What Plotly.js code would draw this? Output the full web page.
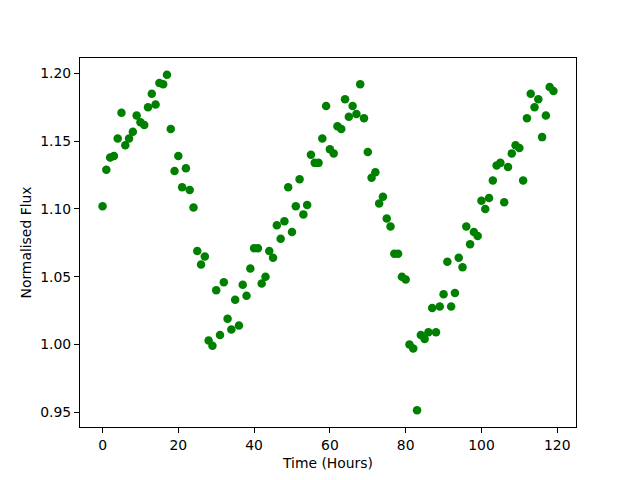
<!DOCTYPE html>
<html>
<head>
<meta charset="utf-8">
<script src="https://cdn.plot.ly/plotly-3.0.1.min.js"></script>
<style>html,body{margin:0;padding:0;background:#fff;}#chart{width:640px;height:480px;}</style>
</head>
<body>
<div id="chart"></div>
<script>
// Time in hours
const timeHours = [];
for (let i = 0; i < 120; i++) timeHours.push(i);

// Normalised flux
const flux = [
  1.102, 1.129, 1.138, 1.139, 1.152, 1.171, 1.147, 1.152, 1.157, 1.169,
  1.164, 1.162, 1.175, 1.185, 1.177, 1.193, 1.192, 1.199, 1.159, 1.128,
  1.139, 1.116, 1.130, 1.114, 1.101, 1.069, 1.059, 1.065, 1.003, 0.999,
  1.040, 1.007, 1.046, 1.019, 1.011, 1.033, 1.014, 1.044, 1.036, 1.056,
  1.071, 1.071, 1.045, 1.050, 1.069, 1.064, 1.088, 1.078, 1.091, 1.116,
  1.083, 1.102, 1.122, 1.096, 1.103, 1.140, 1.134, 1.134, 1.152, 1.176,
  1.144, 1.141, 1.161, 1.159, 1.181, 1.168, 1.176, 1.170, 1.192, 1.167,
  1.142, 1.123, 1.127, 1.104, 1.109, 1.093, 1.087, 1.067, 1.067, 1.050,
  1.048, 1.000, 0.997, 0.9515, 1.007, 1.004, 1.009, 1.027, 1.009, 1.028,
  1.037, 1.061, 1.028, 1.038, 1.064, 1.057, 1.087, 1.074, 1.083, 1.080,
  1.106, 1.100, 1.108, 1.121, 1.132, 1.134, 1.105, 1.131, 1.141, 1.147,
  1.145, 1.121, 1.167, 1.185, 1.175, 1.181, 1.153, 1.169, 1.190, 1.187
];

const xTickVals = [0, 20, 40, 60, 80, 100, 120];
const yTickVals = [0.95, 1.00, 1.05, 1.10, 1.15, 1.20];

function padRange(arr) {
  const mn = Math.min(...arr), mx = Math.max(...arr);
  const m = (mx - mn) * 0.05;
  return [mn - m, mx + m];
}

const font = {family: 'DejaVu Sans, sans-serif', size: 13.9, color: '#000'};

const trace = {
  x: timeHours,
  y: flux,
  type: 'scatter',
  mode: 'markers',
  marker: {color: '#008000', size: 8.5, line: {width: 0}},
  hoverinfo: 'x+y'
};

const axisCommon = {
  showgrid: false,
  zeroline: false,
  showline: true,
  mirror: true,
  linecolor: '#000',
  linewidth: 1,
  ticks: 'outside',
  ticklen: 5,
  tickwidth: 1,
  tickcolor: '#000',
  tickfont: font
};

const layout = {
  width: 640,
  height: 480,
  margin: {l: 80, r: 64, t: 58, b: 53},
  paper_bgcolor: '#fff',
  plot_bgcolor: '#fff',
  showlegend: false,
  font: font,
  xaxis: Object.assign({}, axisCommon, {
    range: padRange(timeHours),
    tickvals: xTickVals,
    ticktext: xTickVals.map(String),
    title: {text: 'Time (Hours)', font: font, standoff: 6}
  }),
  yaxis: Object.assign({}, axisCommon, {
    range: padRange(flux),
    tickvals: yTickVals,
    ticktext: yTickVals.map(v => v.toFixed(2)),
    title: {text: 'Normalised Flux', font: font, standoff: 5}
  })
};

Plotly.newPlot('chart', [trace], layout, {displayModeBar: false, staticPlot: true});
</script>
</body>
</html>
